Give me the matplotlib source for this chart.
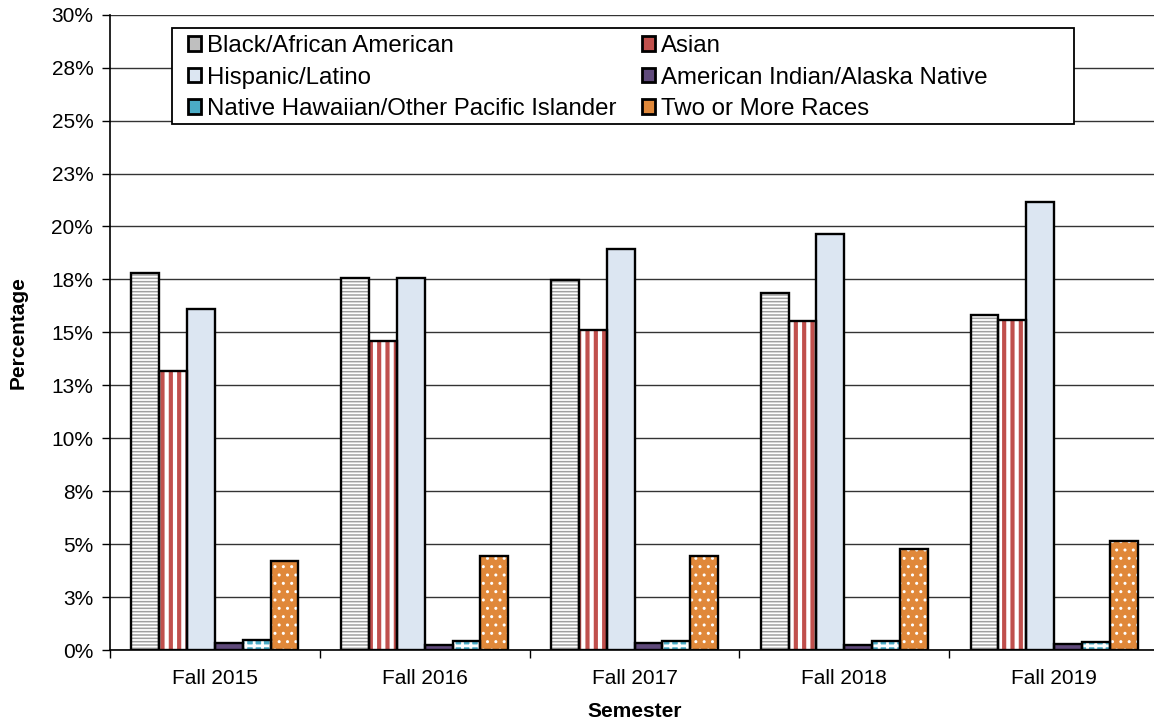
import numpy as np
import matplotlib
matplotlib.use("Agg")
import matplotlib.pyplot as plt
from matplotlib.patches import Patch, Rectangle
from matplotlib.ticker import FixedLocator

plt.rcParams["font.family"] = ["Liberation Sans", "DejaVu Sans"]

# --------------------------------------------------------------------------- #
# Data (percent of enrolled students)
# --------------------------------------------------------------------------- #
semesters = ["Fall 2015", "Fall 2016", "Fall 2017", "Fall 2018", "Fall 2019"]
black_african = [17.8, 17.55, 17.45, 16.85, 15.8]
asian = [13.17, 14.6, 15.1, 15.55, 15.57]
hispanic = [16.1, 17.55, 18.95, 19.65, 21.15]
american_indian = [0.32, 0.25, 0.32, 0.25, 0.28]
native_hawaiian = [0.47, 0.43, 0.43, 0.43, 0.38]
two_or_more = [4.2, 4.45, 4.45, 4.78, 5.15]

y_ticks = [0, 2.5, 5, 7.5, 10, 12.5, 15, 17.5, 20, 22.5, 25, 27.5, 30]
y_tick_labels = ["0%", "3%", "5%", "8%", "10%", "13%", "15%", "18%",
                 "20%", "23%", "25%", "28%", "30%"]

# (label, values, face, hatch, hatch colour, hatch linewidth, legend face)
series = [
    ("Black/African American", black_african, "white", "-----", "#a0a0a0", 1.1, "#bfbfbf"),
    ("Asian", asian, "white", "||", "#c0504d", 3.0, "#c0504d"),
    ("Hispanic/Latino", hispanic, "#dce6f2", None, "#dce6f2", 1.0, "#dce6f2"),
    ("American Indian/Alaska Native", american_indian, "#604a7b", None, "#604a7b", 1.0, "#604a7b"),
    ("Native Hawaiian/Other Pacific Islander", native_hawaiian, "#4bacc6", "++", "white", 2.0, "#4bacc6"),
    ("Two or More Races", two_or_more, "#e0883a", "..", "white", 1.0, "#e0883a"),
]

W, H = 1154, 721
fig = plt.figure(figsize=(W / 100, H / 100), dpi=100)
ax = fig.add_axes([110 / W, 1 - 650 / H, 1049 / W, 635.3 / H])

x = np.arange(len(semesters))
width = 0.1327
offsets = (np.arange(len(series)) - (len(series) - 1) / 2) * width

handles = []
for (label, vals, face, hatch, hcol, hlw, lface), off in zip(series, offsets):
    plt.rcParams["hatch.linewidth"] = hlw
    ax.bar(x + off, vals, width, color=face, edgecolor=hcol, hatch=hatch,
           linewidth=0, zorder=3)
    ax.bar(x + off, vals, width, fill=False, edgecolor="black",
           linewidth=1.7, zorder=4)
    handles.append(Patch(facecolor=lface, edgecolor="black",
                         linewidth=2.0, label=label))

ax.set_xlim(-0.5, len(semesters) - 0.5)
ax.set_ylim(0, 30)
ax.set_yticks(y_ticks)
ax.set_yticklabels(y_tick_labels, fontsize=15)
ax.set_xticks(x)
ax.set_xticklabels(semesters, fontsize=15)
ax.xaxis.set_minor_locator(FixedLocator(np.arange(-0.5, len(semesters), 1.0)))
ax.tick_params(axis="x", which="major", length=0, pad=14)
ax.tick_params(axis="x", which="minor", length=6, width=1)
ax.tick_params(axis="y", length=6, width=1, pad=6)

ax.grid(axis="y", color="#333333", linewidth=1.0, zorder=0)
ax.set_axisbelow(True)
for side in ("top", "right"):
    ax.spines[side].set_visible(False)
ax.spines["left"].set_linewidth(1.2)
ax.spines["bottom"].set_linewidth(1.2)

ax.set_ylabel("Percentage", fontsize=15, fontweight="bold", labelpad=17)
ax.set_xlabel("Semester", fontsize=15, fontweight="bold", labelpad=10)

# legend frame drawn by hand (the original box has extra room on the right)
frame = Rectangle((172 / W, 1 - 124 / H), (1074 - 172) / W, 96 / H,
                  transform=fig.transFigure, facecolor="white",
                  edgecolor="black", linewidth=1.3, zorder=4.5, clip_on=False)
ax.add_patch(frame)

# legend is filled row by row in the reference
order = [0, 2, 4, 1, 3, 5]
plt.rcParams["hatch.linewidth"] = 1.0
leg = ax.legend(handles=[handles[i] for i in order], ncol=2, loc="upper left",
                bbox_to_anchor=(188 / W, 1 - 35 / H),
                bbox_transform=fig.transFigure,
                fontsize=17.3, frameon=False, borderpad=0,
                handlelength=0.55, handleheight=0.55, handletextpad=0.25,
                columnspacing=1.05, labelspacing=0.4, borderaxespad=0)
leg.set_zorder(5)

fig.savefig("out.png", dpi=100)
